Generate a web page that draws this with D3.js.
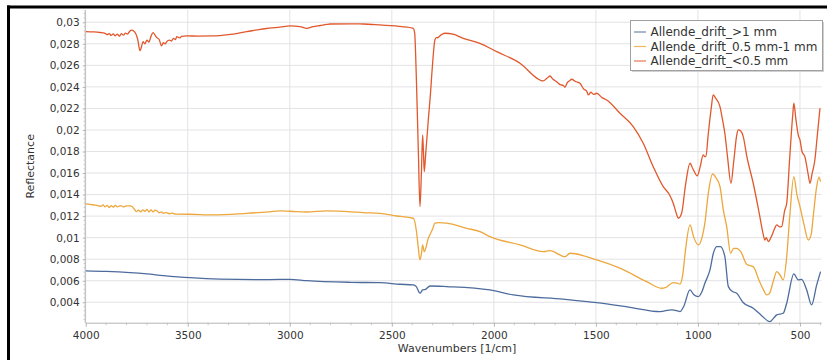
<!DOCTYPE html>
<html>
<head>
<meta charset="utf-8">
<script src="https://cdn.jsdelivr.net/npm/d3@7"></script>
<style>
html,body{margin:0;padding:0;background:#fff;}
svg{display:block;}
text{font-family:"DejaVu Sans",Verdana,sans-serif;fill:#333;}
</style>
</head>
<body>
<svg id="chart" width="827" height="360"></svg>
<script>
// ---------- DATA ----------
const seriesNames = ["Allende_drift_>1 mm", "Allende_drift_0.5 mm-1 mm", "Allende_drift_<0.5 mm"];
const seriesColors = ["#4d6c9d", "#eda73c", "#e0582b"];

const xTicks = [4000, 3500, 3000, 2500, 2000, 1500, 1000, 500];
const yTicks = [0.004, 0.006, 0.008, 0.01, 0.012, 0.014, 0.016, 0.018, 0.02, 0.022, 0.024, 0.026, 0.028, 0.03];
const yTickLabels = ["0,004", "0,006", "0,008", "0,01", "0,012", "0,014", "0,016", "0,018", "0,02", "0,022", "0,024", "0,026", "0,028", "0,03"];

// >1 mm (blue)
const blueWn = [4000, 3900, 3783, 3700, 3620, 3489, 3342, 3100, 2999, 2917, 2700, 2558, 2460, 2395, 2380, 2362, 2349, 2335, 2313, 2231, 2019, 1905, 1660, 1496, 1333, 1186, 1129, 1100, 1088, 1070, 1039, 1020, 998, 980, 966, 941, 925, 908, 890, 868, 851, 830, 810, 780, 729, 690, 647, 630, 614, 582, 565, 530, 508, 492, 467, 443, 418, 399];
const blueVal = [0.00691, 0.00686, 0.00675, 0.00663, 0.00648, 0.00628, 0.00615, 0.0061, 0.00613, 0.006, 0.00585, 0.00582, 0.00567, 0.00561, 0.00545, 0.00484, 0.00514, 0.0052, 0.00551, 0.00545, 0.00514, 0.00468, 0.00428, 0.00396, 0.00353, 0.00313, 0.0033, 0.0032, 0.00313, 0.0036, 0.00514, 0.0047, 0.00453, 0.005, 0.00576, 0.007, 0.0085, 0.00916, 0.00916, 0.00823, 0.00545, 0.005, 0.00484, 0.004, 0.00344, 0.0028, 0.0022, 0.0025, 0.00282, 0.00298, 0.00391, 0.00663, 0.00607, 0.00613, 0.00514, 0.00375, 0.00561, 0.00684];

// 0.5 mm - 1 mm (orange)
const orangeWn = [4000, 3960, 3940, 3925, 3915, 3905, 3895, 3885, 3875, 3865, 3855, 3845, 3830, 3815, 3800, 3783, 3770, 3760, 3752, 3742, 3730, 3720, 3710, 3700, 3690, 3680, 3670, 3660, 3652, 3640, 3628, 3620, 3605, 3590, 3575, 3560, 3489, 3376, 3211, 3100, 3048, 2999, 2917, 2819, 2700, 2641, 2558, 2476, 2395, 2378, 2370, 2362, 2355, 2349, 2341, 2321, 2300, 2289, 2269, 2231, 2133, 2068, 2019, 1872, 1758, 1725, 1652, 1627, 1496, 1382, 1251, 1178, 1160, 1121, 1100, 1088, 1075, 1060, 1039, 1020, 998, 980, 966, 950, 928, 910, 892, 875, 859, 840, 825, 810, 790, 760, 729, 700, 680, 663, 650, 630, 614, 600, 582, 565, 550, 530, 515, 500, 480, 459, 445, 435, 420, 407, 399];
const orangeVal = [0.01313, 0.01303, 0.01298, 0.0129, 0.01305, 0.01285, 0.013, 0.0128, 0.01298, 0.01283, 0.013, 0.01285, 0.01298, 0.01285, 0.01295, 0.01294, 0.01285, 0.0126, 0.01241, 0.01255, 0.0124, 0.01258, 0.01245, 0.01262, 0.0124, 0.01258, 0.0124, 0.01255, 0.01251, 0.0123, 0.0124, 0.01226, 0.01232, 0.01222, 0.01228, 0.01218, 0.01217, 0.01211, 0.01226, 0.0124, 0.01248, 0.01245, 0.01238, 0.01248, 0.0124, 0.01232, 0.01226, 0.01201, 0.0118, 0.01041, 0.009, 0.00793, 0.0085, 0.00932, 0.0087, 0.00994, 0.0108, 0.01134, 0.01139, 0.01134, 0.01087, 0.01056, 0.01009, 0.00932, 0.0087, 0.00879, 0.00823, 0.00855, 0.00793, 0.00716, 0.00591, 0.0053, 0.00535, 0.00583, 0.00575, 0.00568, 0.0065, 0.009, 0.01118, 0.01, 0.00932, 0.01, 0.01134, 0.014, 0.01591, 0.0155, 0.01475, 0.0125, 0.01102, 0.00855, 0.009, 0.00901, 0.0087, 0.0075, 0.00731, 0.006, 0.0052, 0.00468, 0.0048, 0.006, 0.00684, 0.0066, 0.00607, 0.00823, 0.012, 0.01566, 0.014, 0.01288, 0.0112, 0.00978, 0.0103, 0.01195, 0.0145, 0.01561, 0.0152];

// <0.5 mm (red)
const redWn = [4000, 3960, 3930, 3905, 3895, 3885, 3875, 3865, 3855, 3845, 3835, 3825, 3815, 3805, 3795, 3785, 3775, 3765, 3755, 3745, 3734, 3727, 3719, 3710, 3700, 3690, 3680, 3670, 3660, 3650, 3640, 3628, 3620, 3610, 3603, 3590, 3580, 3570, 3560, 3554, 3540, 3530, 3505, 3450, 3376, 3300, 3211, 3100, 3048, 2999, 2950, 2917, 2886, 2850, 2819, 2803, 2700, 2641, 2558, 2450, 2395, 2388, 2380, 2370, 2362, 2355, 2349, 2345, 2341, 2335, 2321, 2313, 2300, 2289, 2280, 2275, 2269, 2240, 2200, 2150, 2068, 1986, 1872, 1774, 1758, 1740, 1725, 1710, 1692, 1675, 1660, 1652, 1640, 1627, 1619, 1600, 1578, 1560, 1545, 1537, 1525, 1510, 1496, 1470, 1447, 1382, 1317, 1268, 1219, 1170, 1140, 1121, 1105, 1096, 1080, 1060, 1039, 1025, 1003, 990, 974, 966, 961, 950, 935, 925, 915, 892, 880, 868, 855, 838, 825, 810, 802, 790, 778, 760, 729, 700, 680, 672, 665, 655, 640, 625, 614, 600, 590, 575, 565, 550, 535, 530, 520, 508, 500, 490, 476, 460, 451, 440, 427, 415, 402];
const redVal = [0.02913, 0.0291, 0.02905, 0.02898, 0.02885, 0.02895, 0.02878, 0.02893, 0.02875, 0.0289, 0.02872, 0.02895, 0.0288, 0.029, 0.0289, 0.02915, 0.02928, 0.0292, 0.02895, 0.0284, 0.02736, 0.0277, 0.0282, 0.028, 0.02835, 0.02815, 0.0287, 0.02903, 0.0288, 0.02855, 0.0284, 0.0278, 0.0281, 0.028, 0.0282, 0.02835, 0.02825, 0.0285, 0.0284, 0.02866, 0.02855, 0.02868, 0.02873, 0.02872, 0.02873, 0.02885, 0.02913, 0.02945, 0.02955, 0.02966, 0.0296, 0.02944, 0.02959, 0.0297, 0.0298, 0.02984, 0.02985, 0.02984, 0.02975, 0.0296, 0.02944, 0.029, 0.025, 0.018, 0.01288, 0.016, 0.01953, 0.018, 0.01613, 0.0175, 0.021, 0.02278, 0.0262, 0.02836, 0.0286, 0.02855, 0.02866, 0.02898, 0.0289, 0.02851, 0.02805, 0.02727, 0.02619, 0.02464, 0.02455, 0.0248, 0.02501, 0.0247, 0.02448, 0.0242, 0.02415, 0.02396, 0.0244, 0.0246, 0.02471, 0.0245, 0.02434, 0.0238, 0.0236, 0.02325, 0.0235, 0.0233, 0.02341, 0.023, 0.02278, 0.02155, 0.02031, 0.01876, 0.01659, 0.01473, 0.014, 0.01319, 0.0122, 0.0118, 0.01226, 0.015, 0.01691, 0.0164, 0.01573, 0.0165, 0.01768, 0.01752, 0.01752, 0.0195, 0.022, 0.02325, 0.023, 0.02216, 0.021, 0.01969, 0.0175, 0.01505, 0.017, 0.0195, 0.02, 0.0199, 0.01938, 0.0175, 0.01505, 0.0123, 0.0103, 0.00978, 0.01, 0.00963, 0.0101, 0.0108, 0.01118, 0.011, 0.01102, 0.0125, 0.01319, 0.0175, 0.0215, 0.02248, 0.021, 0.0195, 0.01907, 0.018, 0.01752, 0.0159, 0.01505, 0.016, 0.01721, 0.0195, 0.02201];

// ---------- CHART ----------
const svg = d3.select("#chart");
const L = 85.7, R = 821.6, T = 10, B = 322.7;

const x = d3.scaleLinear().domain([4000, 394]).range([L, R]);
const y = d3.scaleLinear().domain([0.0021, 0.03114]).range([B, T]);

// frame
svg.append("rect").attr("x", 7).attr("y", 5.5).attr("width", 820).attr("height", 3).attr("fill", "#000");
svg.append("rect").attr("x", 7).attr("y", 5.5).attr("width", 3).attr("height", 355).attr("fill", "#000");

// grid
const grid = svg.append("g");
grid.selectAll("line.gx").data(xTicks).join("line")
  .attr("x1", d => x(d)).attr("x2", d => x(d)).attr("y1", T).attr("y2", B)
  .attr("stroke", "#e3e3e6").attr("stroke-width", 1);
grid.selectAll("line.gy").data(yTicks).join("line")
  .attr("x1", L).attr("x2", R).attr("y1", d => y(d)).attr("y2", d => y(d))
  .attr("stroke", "#e3e3e6").attr("stroke-width", 1);

// minor ticks
const xMinor = d3.range(4000, 394, -100).filter(v => v % 500 !== 0);
const yMinor = d3.range(0.0024, 0.0311, 0.0004).filter(v => Math.abs(v / 0.002 - Math.round(v / 0.002)) > 0.01);

const xAxis = svg.append("g").attr("transform", `translate(0,${B})`)
  .call(d3.axisBottom(x).tickValues(xTicks).tickSize(4).tickPadding(5).tickFormat(d3.format("d")));
xAxis.select(".domain").attr("stroke", "#b4b4b4").attr("d", `M${L},0.5H${R}`);
xAxis.selectAll(".tick line").attr("stroke", "#b4b4b4");
xAxis.selectAll(".tick text").attr("font-size", "10.5px").attr("fill", "#333").attr("font-family", "DejaVu Sans, Verdana, sans-serif");
xAxis.selectAll("line.minor").data(xMinor).join("line").attr("class", "minor")
  .attr("x1", d => x(d)).attr("x2", d => x(d)).attr("y1", 0).attr("y2", 2.5).attr("stroke", "#c4c4c4");

const yAxis = svg.append("g").attr("transform", `translate(${L},0)`)
  .call(d3.axisLeft(y).tickValues(yTicks).tickSize(3).tickPadding(3).tickFormat((d, i) => yTickLabels[i]));
yAxis.select(".domain").attr("stroke", "#b4b4b4").attr("d", `M-0.5,${T}V${B}`);
yAxis.selectAll(".tick line").attr("stroke", "#b4b4b4");
yAxis.selectAll(".tick text").attr("font-size", "10.5px").attr("fill", "#333").attr("font-family", "DejaVu Sans, Verdana, sans-serif");
yAxis.selectAll("line.minor").data(yMinor).join("line").attr("class", "minor")
  .attr("x1", -2).attr("x2", 0).attr("y1", d => y(d)).attr("y2", d => y(d)).attr("stroke", "#c4c4c4");

// axis titles
svg.append("text").attr("x", 457).attr("y", 352).attr("text-anchor", "middle")
  .attr("font-size", "11px").text("Wavenumbers [1/cm]");
svg.append("text").attr("transform", `translate(34,${(T + B) / 2}) rotate(-90)`).attr("text-anchor", "middle")
  .attr("font-size", "11px").text("Reflectance");

// clip
svg.append("clipPath").attr("id", "clip").append("rect").attr("x", L).attr("y", T).attr("width", R - L).attr("height", B - T);

const line = d3.line().x(d => x(d[0])).y(d => y(d[1])).curve(d3.curveMonotoneX);
const series = [d3.zip(blueWn, blueVal), d3.zip(orangeWn, orangeVal), d3.zip(redWn, redVal)];

svg.append("g").attr("clip-path", "url(#clip)")
  .selectAll("path").data(series).join("path")
  .attr("d", line).attr("fill", "none")
  .attr("stroke", (d, i) => seriesColors[i]).attr("stroke-width", 1.3).attr("stroke-linejoin", "round");

// legend
const lg = svg.append("g");
lg.append("rect").attr("x", 632).attr("y", 22).attr("width", 192).attr("height", 50).attr("fill", "#d0d0d0");
lg.append("rect").attr("x", 630.5).attr("y", 20.5).attr("width", 192).attr("height", 50)
  .attr("fill", "#fff").attr("stroke", "#a0a0a0").attr("stroke-width", 1);
const rows = [32, 46.5, 61];
seriesNames.forEach((name, i) => {
  lg.append("line").attr("x1", 634).attr("x2", 646).attr("y1", rows[i]).attr("y2", rows[i])
    .attr("stroke", seriesColors[i]).attr("stroke-width", 1.2).attr("opacity", 0.8);
  lg.append("text").attr("x", 650.5).attr("y", rows[i]).attr("dy", "0.36em")
    .attr("font-size", "12px").text(name);
});
</script>
</body>
</html>
